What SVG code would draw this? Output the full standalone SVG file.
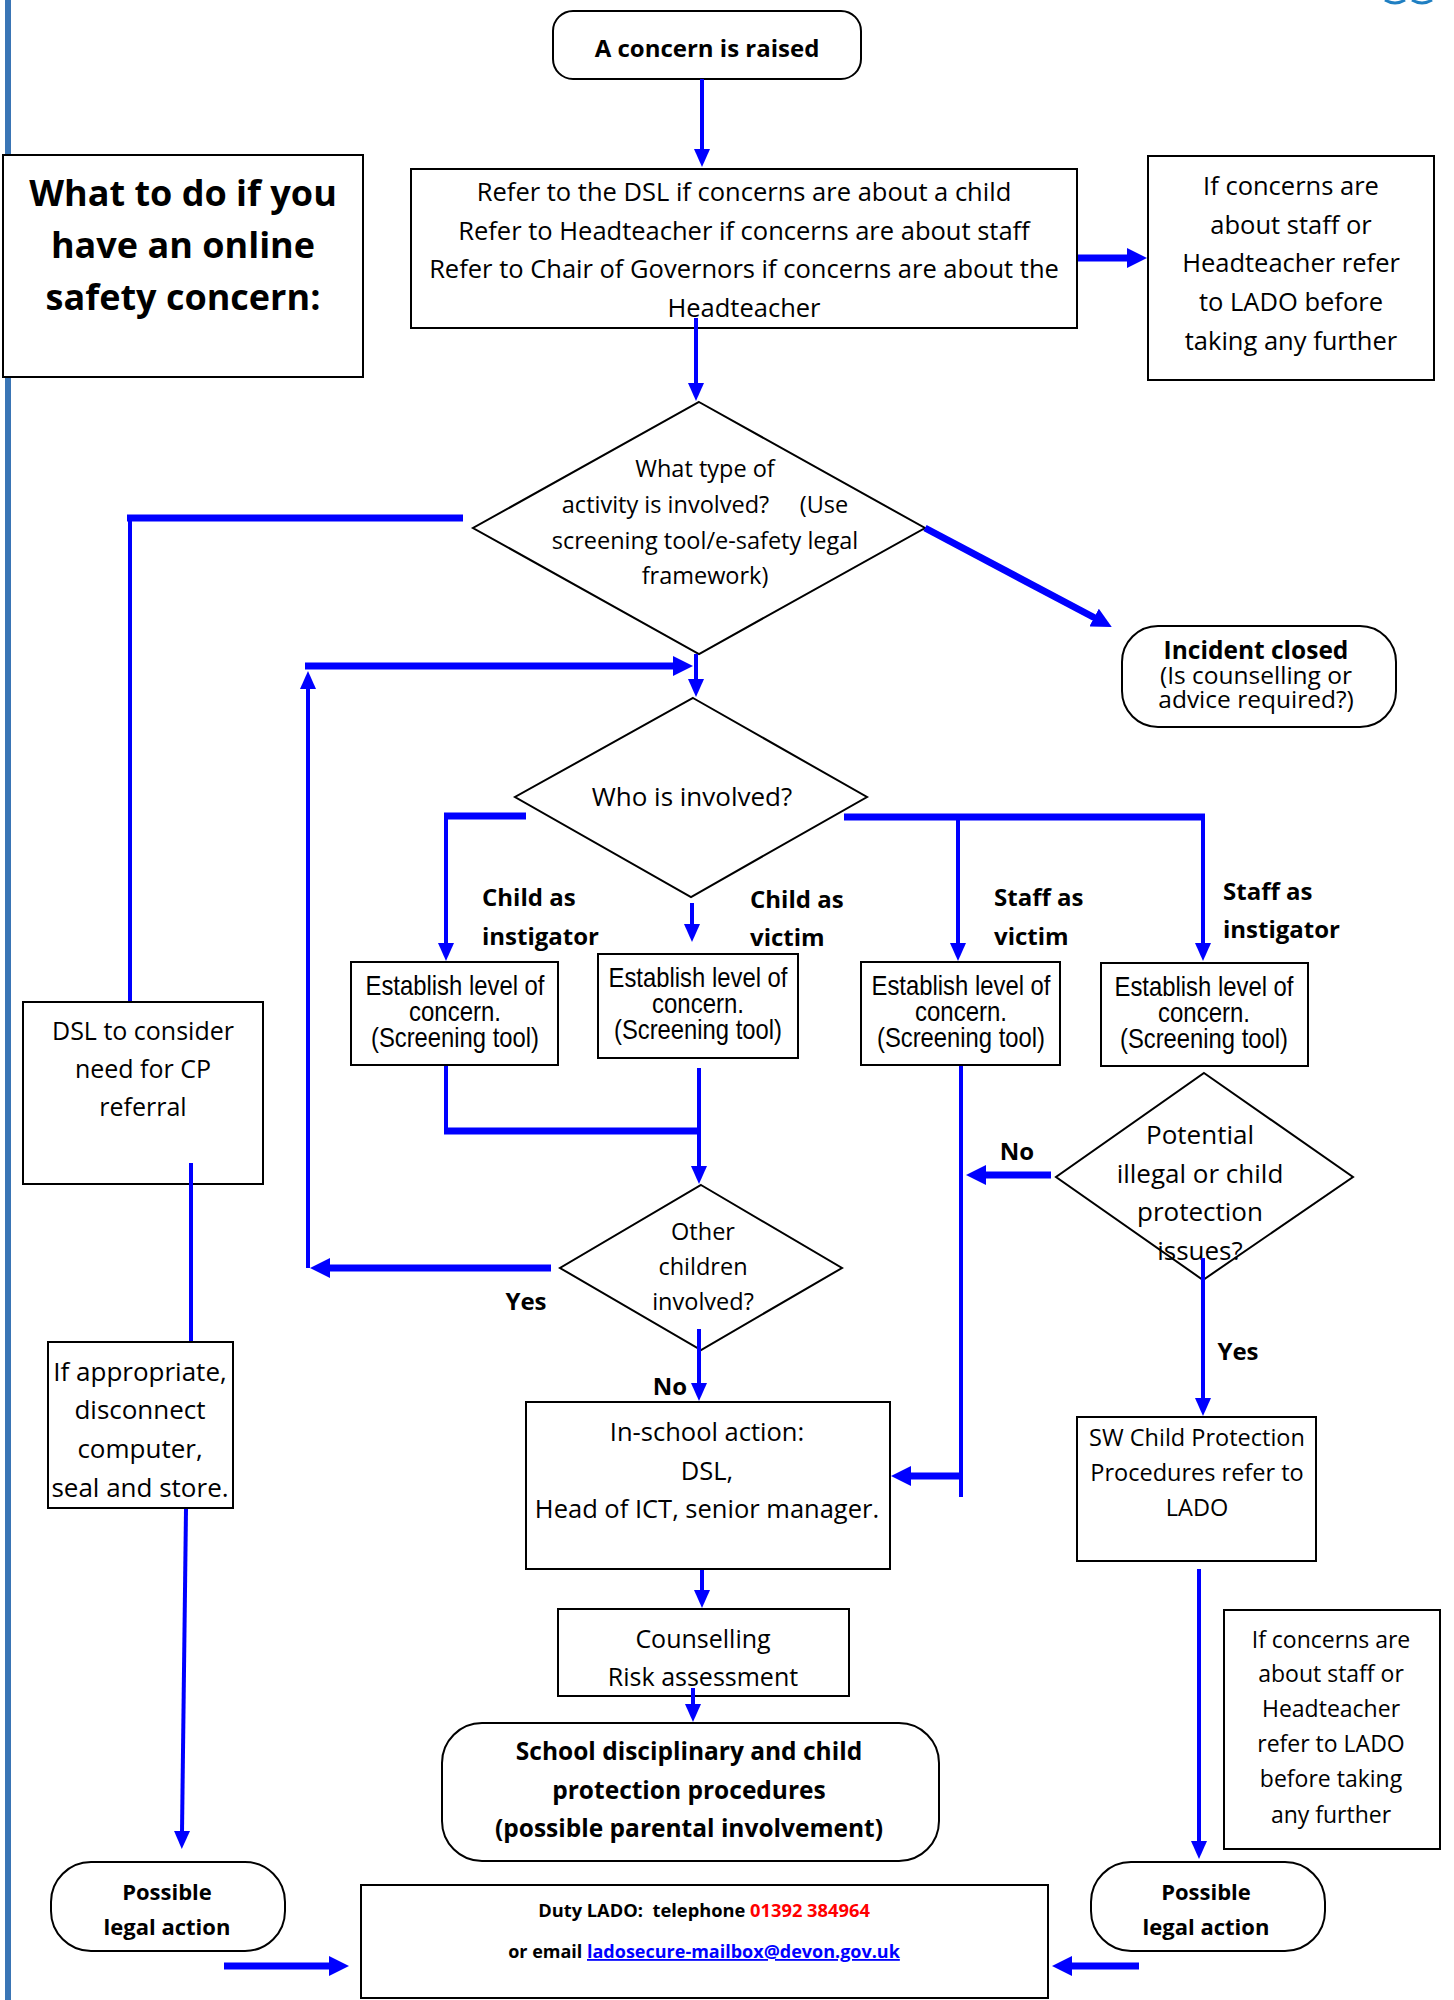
<svg xmlns="http://www.w3.org/2000/svg" width="1454" height="2000" viewBox="0 0 1454 2000">
<style>
.bx{fill:#fff;stroke:#000;stroke-width:2}
.t{font-family:"Open Sans","Noto Sans","Liberation Sans",sans-serif;font-size:23px;fill:#000;text-anchor:middle}
.b{font-weight:bold}
.l{text-anchor:start}
.n{font-family:"Liberation Sans Narrow","Liberation Sans",sans-serif;font-size:28px;fill:#000;text-anchor:middle}
.c{stroke:#0000ff;fill:none;stroke-width:4}
.k{stroke-width:7}
</style>
<defs>
<marker id="a" markerUnits="userSpaceOnUse" markerWidth="20" markerHeight="16" refX="1" refY="8" orient="auto"><path d="M0,0 L18,8 L0,16 z" fill="#0000ff"/></marker>
<marker id="ak" markerUnits="userSpaceOnUse" markerWidth="22" markerHeight="20" refX="1" refY="10" orient="auto"><path d="M0,0 L20,10 L0,20 z" fill="#0000ff"/></marker>
</defs>
<rect x="5" y="0" width="6" height="2000" fill="#3a75b5"/>
<path d="M1385,0 Q1395,6 1405,0 M1412,0 Q1422,6 1432,0" stroke="#1f7fc2" stroke-width="3" fill="none"/>

<g id="title"><rect class="bx" x="3" y="155" width="360" height="222"/>
<text class="t b" style="font-size:36px" x="183" y="206">What to do if you</text>
<text class="t b" style="font-size:36px" x="183" y="258">have an online</text>
<text class="t b" style="font-size:36px" x="183" y="310">safety concern:</text></g>

<g id="concern"><rect class="bx" x="553" y="11" width="308" height="68" rx="20"/>
<text class="t b" style="font-size:24px" x="707" y="57">A concern is raised</text></g>

<g id="refer"><rect class="bx" x="411" y="169" width="666" height="159"/>
<text class="t" style="font-size:25.5px" x="744" y="201">Refer to the DSL if concerns are about a child</text>
<text class="t" style="font-size:25.5px" x="744" y="240">Refer to Headteacher if concerns are about staff</text>
<text class="t" style="font-size:25.5px" x="744" y="278">Refer to Chair of Governors if concerns are about the</text>
<text class="t" style="font-size:25.5px" x="744" y="317">Headteacher</text></g>

<g id="lado-note-top"><rect class="bx" x="1148" y="156" width="286" height="224"/>
<text class="t" style="font-size:25.5px" x="1291" y="195">If concerns are</text>
<text class="t" style="font-size:25.5px" x="1291" y="234">about staff or</text>
<text class="t" style="font-size:25.5px" x="1291" y="272">Headteacher refer</text>
<text class="t" style="font-size:25.5px" x="1291" y="311">to LADO before</text>
<text class="t" style="font-size:25.5px" x="1291" y="350">taking any further</text></g>

<g id="activity"><polygon class="bx" points="699,402 925,528 699,654 473,528"/>
<text class="t" style="font-size:23.5px" x="705" y="477">What type of</text>
<text class="t" style="font-size:23.5px;white-space:pre" xml:space="preserve" x="705" y="513">activity is involved?     (Use</text>
<text class="t" style="font-size:23.5px" x="705" y="549">screening tool/e-safety legal</text>
<text class="t" style="font-size:23.5px" x="705" y="584">framework)</text></g>

<g id="closed"><rect class="bx" x="1122" y="626" width="274" height="101" rx="36"/>
<text class="t b" style="font-size:24.5px" x="1256" y="659">Incident closed</text>
<text class="t" style="font-size:24.5px" x="1256" y="684">(Is counselling or</text>
<text class="t" style="font-size:24.5px" x="1256" y="708">advice required?)</text></g>

<g id="who"><polygon class="bx" points="693,698 867,797 691,897 515,797"/>
<text class="t" style="font-size:26px" x="692" y="806">Who is involved?</text></g>

<g id="labels">
<text class="t b l" style="font-size:24px" x="482" y="906">Child as</text>
<text class="t b l" style="font-size:24px" x="482" y="945">instigator</text>
<text class="t b l" style="font-size:24px" x="750" y="908">Child as</text>
<text class="t b l" style="font-size:24px" x="750" y="946">victim</text>
<text class="t b l" style="font-size:24px" x="994" y="906">Staff as</text>
<text class="t b l" style="font-size:24px" x="994" y="945">victim</text>
<text class="t b l" style="font-size:24px" x="1223" y="900">Staff as</text>
<text class="t b l" style="font-size:24px" x="1223" y="938">instigator</text>
<text class="t b" style="font-size:24px" x="526" y="1310">Yes</text>
<text class="t b" style="font-size:24px" x="670" y="1395">No</text>
<text class="t b" style="font-size:24px" x="1017" y="1160">No</text>
<text class="t b" style="font-size:24px" x="1238" y="1360">Yes</text>
</g>

<g id="estA"><rect class="bx" x="351" y="962" width="207" height="103"/>
<text class="n" x="455" y="995" textLength="179" lengthAdjust="spacingAndGlyphs">Establish level of</text>
<text class="n" x="455" y="1021" textLength="92" lengthAdjust="spacingAndGlyphs">concern.</text>
<text class="n" x="455" y="1047" textLength="168" lengthAdjust="spacingAndGlyphs">(Screening tool)</text></g>
<g id="estB"><rect class="bx" x="598" y="954" width="200" height="104"/>
<text class="n" x="698" y="987" textLength="179" lengthAdjust="spacingAndGlyphs">Establish level of</text>
<text class="n" x="698" y="1013" textLength="92" lengthAdjust="spacingAndGlyphs">concern.</text>
<text class="n" x="698" y="1039" textLength="168" lengthAdjust="spacingAndGlyphs">(Screening tool)</text></g>
<g id="estC"><rect class="bx" x="861" y="962" width="199" height="103"/>
<text class="n" x="961" y="995" textLength="179" lengthAdjust="spacingAndGlyphs">Establish level of</text>
<text class="n" x="961" y="1021" textLength="92" lengthAdjust="spacingAndGlyphs">concern.</text>
<text class="n" x="961" y="1047" textLength="168" lengthAdjust="spacingAndGlyphs">(Screening tool)</text></g>
<g id="estD"><rect class="bx" x="1101" y="963" width="207" height="103"/>
<text class="n" x="1204" y="996" textLength="179" lengthAdjust="spacingAndGlyphs">Establish level of</text>
<text class="n" x="1204" y="1022" textLength="92" lengthAdjust="spacingAndGlyphs">concern.</text>
<text class="n" x="1204" y="1048" textLength="168" lengthAdjust="spacingAndGlyphs">(Screening tool)</text></g>

<g id="dsl-cp"><rect class="bx" x="23" y="1002" width="240" height="182"/>
<text class="t" style="font-size:25px" x="143" y="1040">DSL to consider</text>
<text class="t" style="font-size:25px" x="143" y="1078">need for CP</text>
<text class="t" style="font-size:25px" x="143" y="1116">referral</text></g>

<g id="potential"><polygon class="bx" points="1204,1073 1353,1177 1203,1280 1056,1177"/>
<text class="t" style="font-size:26px" x="1200" y="1144">Potential</text>
<text class="t" style="font-size:26px" x="1200" y="1183">illegal or child</text>
<text class="t" style="font-size:26px" x="1200" y="1221">protection</text>
<text class="t" style="font-size:26px" x="1200" y="1260">issues?</text></g>

<g id="other"><polygon class="bx" points="701,1185 842,1268 701,1350 560,1268"/>
<text class="t" style="font-size:23.5px" x="703" y="1240">Other</text>
<text class="t" style="font-size:23.5px" x="703" y="1275">children</text>
<text class="t" style="font-size:23.5px" x="703" y="1310">involved?</text></g>

<g id="appropriate"><rect class="bx" x="48" y="1342" width="185" height="166"/>
<text class="t" style="font-size:26px" x="140" y="1381">If appropriate,</text>
<text class="t" style="font-size:26px" x="140" y="1419">disconnect</text>
<text class="t" style="font-size:26px" x="140" y="1458">computer,</text>
<text class="t" style="font-size:26px" x="140" y="1497">seal and store.</text></g>

<g id="inschool"><rect class="bx" x="526" y="1402" width="364" height="167"/>
<text class="t" style="font-size:25.5px" x="707" y="1441">In-school action:</text>
<text class="t" style="font-size:25.5px" x="707" y="1480">DSL,</text>
<text class="t" style="font-size:25.5px" x="707" y="1518">Head of ICT, senior manager.</text></g>

<g id="sw"><rect class="bx" x="1077" y="1417" width="239" height="144"/>
<text class="t" style="font-size:23.5px" x="1197" y="1446">SW Child Protection</text>
<text class="t" style="font-size:23.5px" x="1197" y="1481">Procedures refer to</text>
<text class="t" style="font-size:23.5px" x="1197" y="1516">LADO</text></g>

<g id="counselling"><rect class="bx" x="558" y="1609" width="291" height="87"/>
<text class="t" style="font-size:25px" x="703" y="1648">Counselling</text>
<text class="t" style="font-size:25px" x="703" y="1686">Risk assessment</text></g>

<g id="disciplinary"><rect class="bx" x="442" y="1723" width="497" height="138" rx="40"/>
<text class="t b" style="font-size:24.5px" x="689" y="1760">School disciplinary and child</text>
<text class="t b" style="font-size:24.5px" x="689" y="1799">protection procedures</text>
<text class="t b" style="font-size:24.5px" x="689" y="1837">(possible parental involvement)</text></g>

<g id="lado-note-bottom"><rect class="bx" x="1224" y="1610" width="216" height="239"/>
<text class="t" style="font-size:23px" x="1331" y="1648">If concerns are</text>
<text class="t" style="font-size:23px" x="1331" y="1682">about staff or</text>
<text class="t" style="font-size:23px" x="1331" y="1717">Headteacher</text>
<text class="t" style="font-size:23px" x="1331" y="1752">refer to LADO</text>
<text class="t" style="font-size:23px" x="1331" y="1787">before taking</text>
<text class="t" style="font-size:23px" x="1331" y="1823">any further</text></g>

<g id="legal-left"><rect class="bx" x="51" y="1862" width="234" height="89" rx="40"/>
<text class="t b" style="font-size:22px" x="167" y="1900">Possible</text>
<text class="t b" style="font-size:22px" x="167" y="1935">legal action</text></g>

<g id="legal-right"><rect class="bx" x="1091" y="1862" width="234" height="89" rx="40"/>
<text class="t b" style="font-size:22px" x="1206" y="1900">Possible</text>
<text class="t b" style="font-size:22px" x="1206" y="1935">legal action</text></g>

<g id="lado"><rect class="bx" x="361" y="1885" width="687" height="113"/>
<text class="t b" style="font-size:18.3px;white-space:pre" xml:space="preserve" x="704" y="1917">Duty LADO:  telephone <tspan fill="#ff0000">01392 384964</tspan></text>
<text class="t b" style="font-size:18px" x="704" y="1958">or email <tspan fill="#0000ff" text-decoration="underline">ladosecure-mailbox@devon.gov.uk</tspan></text></g>

<g id="connectors">
<line class="c" x1="702" y1="79" x2="702" y2="150" marker-end="url(#a)"/>
<line class="c" x1="696" y1="318" x2="696" y2="384" marker-end="url(#a)"/>
<line class="c k" x1="1078" y1="258" x2="1128" y2="258" marker-end="url(#ak)"/>
<line class="c k" x1="463" y1="518" x2="127" y2="518"/>
<line class="c" x1="130" y1="515" x2="130" y2="1001"/>
<line class="c k" x1="925" y1="528" x2="1095" y2="618" marker-end="url(#ak)"/>
<line class="c" x1="308" y1="1268" x2="308" y2="688" marker-end="url(#a)"/>
<line class="c k" x1="305" y1="666" x2="674" y2="666" marker-end="url(#ak)"/>
<line class="c" x1="696" y1="654" x2="696" y2="680" marker-end="url(#a)"/>
<line class="c k" x1="526" y1="816" x2="444" y2="816"/>
<line class="c" x1="446" y1="813" x2="446" y2="944" marker-end="url(#a)"/>
<line class="c" x1="692" y1="903" x2="692" y2="925" marker-end="url(#a)"/>
<line class="c k" x1="844" y1="817" x2="1205" y2="817"/>
<line class="c" x1="958" y1="817" x2="958" y2="944" marker-end="url(#a)"/>
<line class="c" x1="1203" y1="817" x2="1203" y2="944" marker-end="url(#a)"/>
<line class="c" x1="446" y1="1066" x2="446" y2="1131"/>
<line class="c k" x1="444" y1="1131" x2="701" y2="1131"/>
<line class="c" x1="699" y1="1068" x2="699" y2="1167" marker-end="url(#a)"/>
<line class="c" x1="961" y1="1066" x2="961" y2="1497"/>
<line class="c k" x1="961" y1="1476" x2="910" y2="1476" marker-end="url(#ak)"/>
<line class="c k" x1="1051" y1="1175" x2="985" y2="1175" marker-end="url(#ak)"/>
<line class="c" x1="1203" y1="1258" x2="1203" y2="1399" marker-end="url(#a)"/>
<line class="c k" x1="551" y1="1268" x2="329" y2="1268" marker-end="url(#ak)"/>
<line class="c" x1="699" y1="1329" x2="699" y2="1384" marker-end="url(#a)"/>
<line class="c" x1="702" y1="1570" x2="702" y2="1591" marker-end="url(#a)"/>
<line class="c" x1="693" y1="1688" x2="693" y2="1705" marker-end="url(#a)"/>
<line class="c" x1="191" y1="1163" x2="191" y2="1341"/>
<line class="c" x1="186" y1="1509" x2="182" y2="1832" marker-end="url(#a)"/>
<line class="c" x1="1199" y1="1569" x2="1199" y2="1842" marker-end="url(#a)"/>
<line class="c k" x1="224" y1="1966" x2="330" y2="1966" marker-end="url(#ak)"/>
<line class="c k" x1="1139" y1="1966" x2="1071" y2="1966" marker-end="url(#ak)"/>
</g>
</svg>
